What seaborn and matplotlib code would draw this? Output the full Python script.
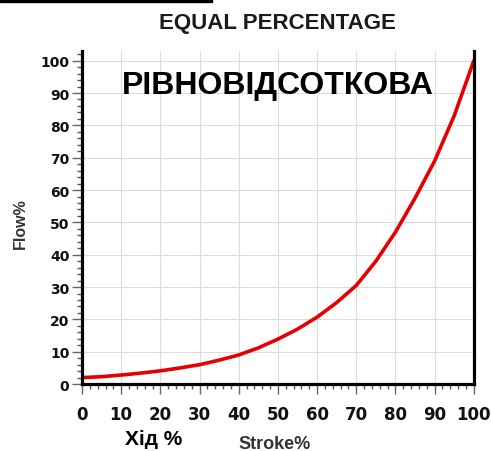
import matplotlib

matplotlib.use("Agg")

import matplotlib.pyplot as plt
import pandas as pd
import seaborn as sns
from matplotlib.patches import Rectangle
from matplotlib.ticker import MultipleLocator

# Valores (curva de igual percentagem)
stroke = [0, 5, 10, 15, 20, 25, 30, 35, 40, 45, 50,
          55, 60, 65, 70, 75, 80, 85, 90, 95, 100]
flow = [2.0, 2.3, 2.8, 3.4, 4.1, 5.0, 6.0, 7.4, 9.0, 11.2, 13.9,
        17.0, 20.7, 25.2, 30.5, 38.0, 47.0, 57.5, 69.0, 83.0, 100.0]

title = "EQUAL PERCENTAGE"
inner_label = "РІВНОВІДСОТКОВА"
xlabel_en = "Stroke%"
xlabel_uk = "Хід %"
ylabel = "Flow%"

df = pd.DataFrame({"stroke": stroke, "flow": flow})

sns.set_theme(style="white")
plt.rcParams["font.family"] = ["Liberation Sans", "DejaVu Sans"]

fig = plt.figure(figsize=(4.91, 4.52), dpi=100)
ax = fig.add_axes([0.167, 0.148, 0.798, 0.737])

sns.lineplot(data=df, x="stroke", y="flow", ax=ax, color="#e60000", lw=2.6)

ax.set_xlim(0, 100)
ax.set_ylim(0, 103)
ax.xaxis.set_major_locator(MultipleLocator(10))
ax.xaxis.set_minor_locator(MultipleLocator(2))
ax.yaxis.set_major_locator(MultipleLocator(10))
ax.yaxis.set_minor_locator(MultipleLocator(2))
ax.grid(True, which="major", color="#dcdcdc", lw=0.8)
ax.set_axisbelow(True)

for side in ["left", "right", "bottom"]:
    ax.spines[side].set_visible(True)
    ax.spines[side].set_color("black")
    ax.spines[side].set_linewidth(2.3)
ax.spines["top"].set_visible(False)

ax.tick_params(axis="both", which="major", direction="out", length=7, width=1,
               color="#666666", left=True, bottom=True)
ax.tick_params(axis="both", which="minor", direction="out", length=3.5, width=1,
               color="#555555", left=True, bottom=True)
ax.tick_params(axis="x", which="major", labelsize=12, pad=8)
ax.tick_params(axis="y", which="major", labelsize=10, pad=2)
for lab in ax.get_xticklabels() + ax.get_yticklabels():
    lab.set_fontweight("bold")
    lab.set_family("DejaVu Sans")
    lab.set_color("#111111")

ax.set_xlabel("")
ax.set_ylabel("")

ax.text(50, 92.6, inner_label, ha="center", va="center", fontsize=23,
        fontweight="bold", color="black")

fig.text(0.566, 0.947, title, ha="center", va="center", fontsize=16,
         fontweight="bold", color="#1a1a1a")
fig.text(20 / 491, 1 - 224 / 452, ylabel, rotation=90, ha="center", va="center",
         fontsize=11.5, fontweight="bold", color="#333333")
fig.text(275 / 491, 1 - 445 / 452, xlabel_en, ha="center", va="center",
         fontsize=13, fontweight="bold", color="#333333")
fig.text(154 / 491, 1 - 440 / 452, xlabel_uk, ha="center", va="center",
         fontsize=15, fontweight="bold", color="black")

# barra preta no canto superior esquerdo
fig.patches.append(Rectangle((0, 1 - 3.3 / 452), 212 / 491, 3.3 / 452,
                             transform=fig.transFigure, color="black"))

fig.savefig("out.png", dpi=100)
plt.close(fig)
